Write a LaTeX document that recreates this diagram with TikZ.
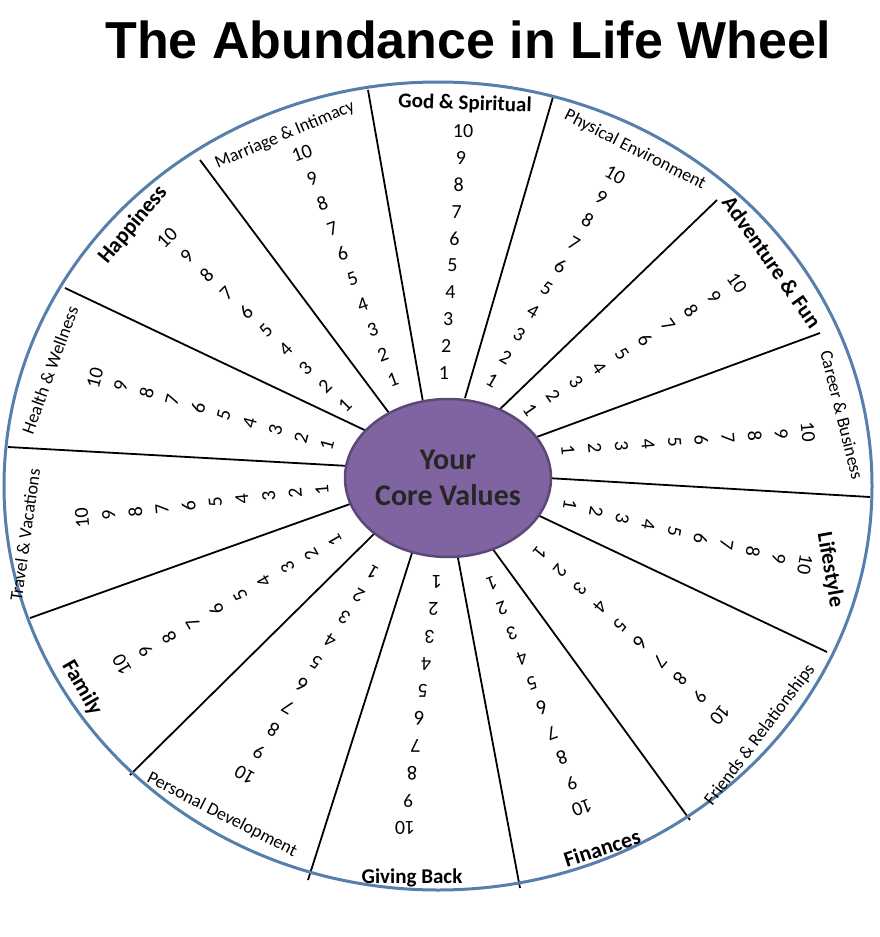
\documentclass[tikz,border=0pt]{standalone}
\usepackage{fontspec}
\setmainfont{Carlito}
\newfontfamily\titlefont{Liberation Sans}
\usepackage{tikz}
\usetikzlibrary{shapes.geometric}
\definecolor{rimblue}{RGB}{86,127,172}
\definecolor{corepurple}{RGB}{128,100,162}
\definecolor{coreedge}{RGB}{90,72,118}
\tikzset{spoke/.style={black,line width=1.8pt},
  num/.style={font=\fontsize{20}{20}\selectfont,inner sep=0pt},
  lab/.style={font=\fontsize{18}{18}\selectfont,inner sep=0pt},
  blab/.style={font=\fontsize{22}{22}\selectfont\bfseries,inner sep=0pt}}
\begin{document}
\begin{tikzpicture}[x=1pt,y=-1pt]
\useasboundingbox (0,0) rectangle (880,937);
\node[font=\titlefont\fontsize{52}{52}\selectfont\bfseries] (title) at (468,40) {The Abundance in Life Wheel};
% spokes
\foreach \ix/\iy/\ox/\oy in {392/417/200/160,423/402/368/90,465/398/553/97,497/412/717/200,
  523/442/820/333,530/477/870/497,527/510/827/652,492/548/690/820,458/558/520/888,
  412/553/308/880,380/528/130/775,367/498/30/618,367/467/8/447,375/435/65/288}
  \draw[spoke] (\ix,\iy) -- (\ox,\oy);
% rim
\draw[rimblue,line width=3pt] (438,486) ellipse [x radius=434,y radius=404];
% core
\node[draw=coreedge,line width=2.5pt,fill=corepurple,ellipse,minimum width=166pt,minimum height=158pt,inner sep=0pt,
  font=\fontsize{30}{36}\selectfont\bfseries,align=center,text=black!85] (core) at (448,478) {Your\\Core Values};
% numbers: first x/y, last x/y, rotation
\foreach \ax/\ay/\bx/\by/\r in {444/373/463/131/0, 492/380/615/175/-30, 530/410/737/283/-55,
  568/450/808/432/-85, 570/505/805/565/-100, 540/553/720/715/-130, 492/583/582/808/-160,
  437/582/405/828/180, 373/573/245/775/150, 335/540/122/665/120, 322/490/82/518/95,
  327/445/95/378/75, 345/405/167/238/45, 393/380/302/153/20}
  \foreach \n in {1,...,10}
    \node[num,rotate=\r] at ({\ax+(\bx-\ax)*(\n-1)/9},{\ay+(\by-\ay)*(\n-1)/9}) {\n};
% labels
\node[lab,rotate=-2,font=\fontsize{21}{21}\selectfont\bfseries] (god) at (465,104) {God \& Spiritual};
\node[lab,rotate=-27] (phys) at (635,150) {Physical Environment};
\node[blab,rotate=-55] (adv) at (772,262) {Adventure \& Fun};
\node[lab,rotate=-76] (career) at (842,415) {Career \& Business};
\node[blab,rotate=-80] (life) at (830,570) {Lifestyle};
\node[lab,rotate=53] (friends) at (760,735) {Friends \& Relationships};
\node[blab,rotate=18] (fin) at (602,848) {Finances};
\node[lab,font=\fontsize{21}{21}\selectfont\bfseries] (give) at (412,878) {Giving Back};
\node[lab,rotate=-27] (pers) at (222,815) {Personal Development};
\node[blab,rotate=-60] (fam) at (82,688) {Family};
\node[lab,rotate=82] (travel) at (25,535) {Travel \& Vacations};
\node[lab,rotate=70] (health) at (50,370) {Health \& Wellness};
\node[blab,rotate=50] (happy) at (133,225) {Happiness};
\node[lab,rotate=23] (marr) at (285,135) {Marriage \& Intimacy};
\end{tikzpicture}
\end{document}
